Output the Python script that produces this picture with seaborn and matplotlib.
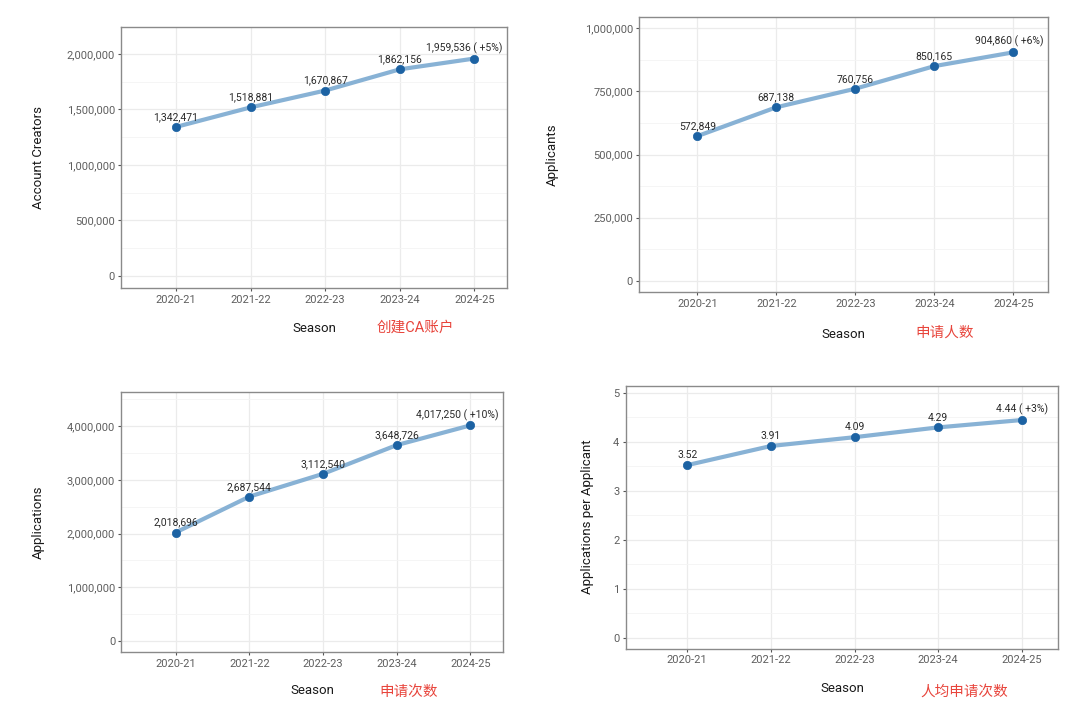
import matplotlib
matplotlib.use("Agg")
import matplotlib.pyplot as plt
import seaborn as sns
import pandas as pd
from matplotlib.ticker import FuncFormatter, MultipleLocator, AutoMinorLocator

# 数据
seasons = ['2020-21', '2021-22', '2022-23', '2023-24', '2024-25']
account_creators = [1342471, 1518881, 1670867, 1862156, 1959536]
applicants = [572849, 687138, 760756, 850165, 904860]
applications = [2018696, 2687544, 3112540, 3648726, 4017250]
apps_per_applicant = [3.52, 3.91, 4.09, 4.29, 4.44]
growth = ['+5%', '+6%', '+10%', '+3%']
y_titles = ['Account Creators', 'Applicants', 'Applications', 'Applications per Applicant']
cn_titles = ['创建CA账户', '申请人数', '申请次数', '人均申请次数']

sns.set_theme(style='white')
plt.rcParams['font.family'] = ['Roboto', 'Noto Sans CJK SC', 'DejaVu Sans']

W, H = 1080, 715
fig = plt.figure(figsize=(W / 100, H / 100), dpi=100)
fig.patch.set_facecolor('white')

def px_axes(l, t, r, b):
    return fig.add_axes([l / W, 1 - b / H, (r - l) / W, (b - t) / H])

# 每个面板: 轴框像素位置, y范围, 主刻度间隔, 文字位置
panels = [
    dict(box=(121.3, 26.7, 506.7, 288.3), ylim=(-0.114e6, 2.247e6), step=500000,
         ylab=(38.6, 157.5), xlab=(314, 328), cn=(415, 328)),
    dict(box=(639.3, 16.7, 1047.7, 292.3), ylim=(-0.046e6, 1.046e6), step=250000,
         ylab=(552, 154.5), xlab=(843.5, 334), cn=(945, 333)),
    dict(box=(121.4, 392.3, 502.5, 652.3), ylim=(-0.216e6, 4.634e6), step=1000000,
         ylab=(38, 522), xlab=(312, 691), cn=(409, 692)),
    dict(box=(625.7, 385.7, 1058.3, 649.0), ylim=(-0.23, 5.14), step=1,
         ylab=(587, 517), xlab=(842, 689), cn=(964, 692)),
]
series = [account_creators, applicants, applications, apps_per_applicant]

line_color = '#82aed3'
point_color = '#1c62a3'
red = '#e8453c'

fig.canvas.draw()
renderer = fig.canvas.get_renderer()

for k, (p, vals) in enumerate(zip(panels, series)):
    ax = px_axes(*p['box'])
    df = pd.DataFrame({'Season': seasons, 'value': vals})
    df['pos'] = range(len(seasons))
    sns.lineplot(data=df, x='pos', y='value', ax=ax, color=line_color,
                 linewidth=3.0, alpha=0.95, zorder=2)
    sns.scatterplot(data=df, x='pos', y='value', ax=ax, color=point_color,
                    s=36, edgecolor=point_color, linewidth=0.5, zorder=3)

    ax.set_xlim(-0.735, 4.435)
    ax.set_ylim(*p['ylim'])
    ax.set_xticks(range(len(seasons)))
    ax.set_xticklabels(seasons)
    ax.yaxis.set_major_locator(MultipleLocator(p['step']))
    ax.yaxis.set_minor_locator(AutoMinorLocator(2))
    if k < 3:
        ax.yaxis.set_major_formatter(FuncFormatter(lambda v, _: f'{int(round(v)):,}'))
    else:
        ax.yaxis.set_major_formatter(FuncFormatter(lambda v, _: f'{int(round(v))}'))

    ax.set_xlabel('')
    ax.set_ylabel('')
    ax.grid(which='major', color='#ebebeb', linewidth=0.9, zorder=0)
    ax.grid(which='minor', axis='y', color='#f4f4f4', linewidth=0.6, zorder=0)
    ax.set_axisbelow(True)
    for s in ax.spines.values():
        s.set_color('#8a8a8a')
        s.set_linewidth(1.0)
    ax.tick_params(which='major', length=2.5, width=0.8, color='#555555',
                   labelsize=8, labelcolor='#5e5e5e', pad=2, bottom=True, left=True)
    ax.tick_params(which='minor', length=0)

    # 数值标签
    for i, v in enumerate(vals):
        txt = f'{v:,}' if k < 3 else f'{v:.2f}'
        if i == len(vals) - 1:
            txt += f' ( {growth[k]})'
        a = ax.annotate(txt, (i, v), xytext=(0, 3.5), textcoords='offset points',
                        ha='center', va='bottom', fontsize=7.5, color='#2a2a2a', zorder=4)
        if i == len(vals) - 1:
            bb = a.get_window_extent(renderer)
            limit = ax.get_window_extent(renderer).x1 - 4
            if bb.x1 > limit:
                shift = (limit - bb.x1) * 72 / fig.dpi
                a.set_position((shift, 3.5))

    fig.text(p['ylab'][0] / W, 1 - p['ylab'][1] / H, y_titles[k], rotation=90,
             ha='center', va='center', fontsize=9.5, color='#1a1a1a')
    fig.text(p['xlab'][0] / W, 1 - p['xlab'][1] / H, 'Season',
             ha='center', va='center', fontsize=9.5, color='#1a1a1a')
    fig.text(p['cn'][0] / W, 1 - p['cn'][1] / H, cn_titles[k],
             ha='center', va='center', fontsize=10.5, color=red)

fig.savefig('out.png', dpi=100, facecolor='white')
